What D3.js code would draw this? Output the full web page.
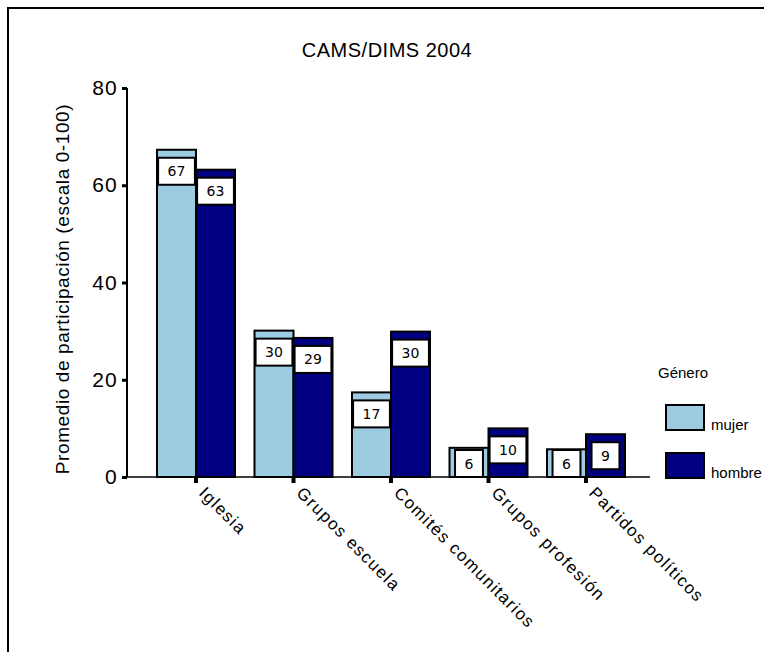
<!DOCTYPE html>
<html>
<head>
<meta charset="utf-8">
<script src="https://cdn.jsdelivr.net/npm/d3@7/dist/d3.min.js"></script>
<style>
  html, body { margin: 0; padding: 0; background: #fff; }
  svg { display: block; }
</style>
</head>
<body>
<svg id="chart" width="764" height="652"></svg>
<script>
const title = "CAMS/DIMS 2004";
const yTitle = "Promedio de participación (escala 0-100)";
const categories = ["Iglesia", "Grupos escuela", "Comités comunitarios", "Grupos profesión", "Partidos políticos"];
const series = ["mujer", "hombre"];
const mujerValues = [67.3, 30.1, 17.4, 6.0, 5.7];
const hombreValues = [63.2, 28.6, 29.9, 10.0, 8.8];
const yTicks = [0, 20, 40, 60, 80];
const legendTitle = "Género";
const colors = ["#9dcbe2", "#000080"];

const svg = d3.select("#chart");
const FONT = "Liberation Sans, Arial, sans-serif";

// frame
svg.append("rect").attr("x", 8).attr("y", 8).attr("width", 900).attr("height", 900)
  .attr("fill", "none").attr("stroke", "#000").attr("stroke-width", 2);

const y = d3.scaleLinear().domain([0, 80]).range([477, 88]);
const x = d3.scaleBand().domain(categories).range([147.25, 634.75]).padding(0);
const inner = d3.scaleBand().domain(series).range([0, x.bandwidth() * 0.8]);
const groupOffset = x.bandwidth() * 0.1;

// title
svg.append("text").attr("x", 387).attr("y", 57).attr("text-anchor", "middle")
  .attr("font-family", FONT).attr("font-size", 20).attr("letter-spacing", 0.5)
  .text(title);

// y axis
const yAxis = d3.axisLeft(y).tickValues(yTicks).tickSize(5).tickPadding(4);
const yg = svg.append("g").attr("transform", "translate(127,0)").call(yAxis);
yg.select(".domain").attr("stroke", "#000").attr("stroke-width", 2).attr("d", `M0,${y(80)}V${y(0)}`);
yg.selectAll(".tick line").attr("stroke", "#000").attr("stroke-width", 3);
yg.selectAll(".tick text").attr("font-family", FONT)
  .attr("font-size", 21).attr("letter-spacing", 1.2).attr("fill", "#000");

// y title
svg.append("text").attr("transform", `translate(69,289) rotate(-90)`)
  .attr("text-anchor", "middle")
  .attr("font-family", FONT).attr("font-size", 19).attr("letter-spacing", 0.6)
  .text(yTitle);

// bars
const data = [];
categories.forEach((c, i) => {
  data.push({cat: c, s: "mujer", v: mujerValues[i]});
  data.push({cat: c, s: "hombre", v: hombreValues[i]});
});
const bx = d => x(d.cat) + groupOffset + inner(d.s);

svg.append("g").selectAll("rect").data(data).join("rect")
  .attr("x", bx).attr("y", d => y(d.v))
  .attr("width", inner.bandwidth()).attr("height", d => y(0) - y(d.v))
  .attr("fill", d => colors[series.indexOf(d.s)])
  .attr("stroke", "#000").attr("stroke-width", 2);

// baseline
svg.append("line").attr("x1", 125).attr("x2", 650).attr("y1", y(0)).attr("y2", y(0))
  .attr("stroke", "#000").attr("stroke-width", 1.5);

// x axis ticks + labels
const xAxis = d3.axisBottom(x).tickSize(6).tickFormat("");
const xg = svg.append("g").attr("transform", `translate(0,${y(0)})`).call(xAxis);
xg.select(".domain").remove();
xg.selectAll(".tick line").attr("stroke", "#000").attr("stroke-width", 4);

svg.append("g").selectAll("text").data(categories).join("text")
  .attr("transform", d => `translate(${x(d) + x.bandwidth() / 2 + 2},${y(0) + 17}) rotate(45)`)
  .attr("text-anchor", "start")
  .attr("font-family", FONT).attr("font-size", 17)
  .attr("letter-spacing", 1.4)
  .text(d => d);

// value labels
const labG = svg.append("g");
data.forEach(d => {
  const g = labG.append("g");
  const t = g.append("text").attr("font-family", "DejaVu Sans, Verdana, sans-serif")
    .attr("font-size", 14).attr("text-anchor", "middle").text(Math.round(d.v));
  const w = t.node().getComputedTextLength() + 19;
  const h = 27;
  const cx = bx(d) + inner.bandwidth() / 2;
  const top = Math.min(y(d.v) + 8, y(0) - h);
  g.insert("rect", "text").attr("x", cx - w / 2).attr("y", top).attr("width", w).attr("height", h)
    .attr("fill", "#fff").attr("stroke", "#000").attr("stroke-width", 2);
  t.attr("x", cx).attr("y", top + h / 2 + 5);
});

// legend
svg.append("text").attr("x", 658).attr("y", 378)
  .attr("font-family", FONT).attr("font-size", 15)
  .text(legendTitle);
const leg = svg.append("g").selectAll("g").data(series).join("g")
  .attr("transform", (d, i) => `translate(666,${405 + i * 48})`);
leg.append("rect").attr("width", 38).attr("height", 25)
  .attr("fill", (d, i) => colors[i]).attr("stroke", "#000").attr("stroke-width", 2);
leg.append("text").attr("x", 45).attr("y", 25)
  .attr("font-family", FONT).attr("font-size", 15)
  .text(d => d);
</script>
</body>
</html>
